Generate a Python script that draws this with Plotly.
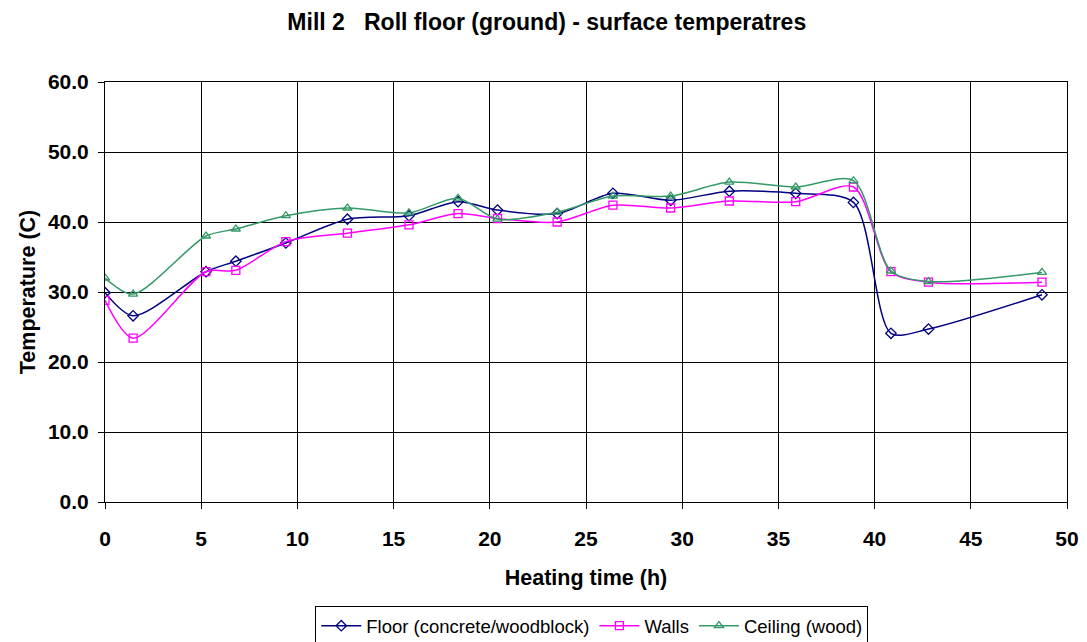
import plotly.graph_objects as go

hours = [0, 1.46, 5.25, 6.8, 9.4, 12.6, 15.8, 18.35, 20.4, 23.5, 26.4, 29.4, 32.45, 35.9, 38.9, 40.85, 42.8, 48.7]
floor = [29.9, 26.6, 32.9, 34.4, 37.0, 40.4, 40.9, 42.9, 41.7, 41.2, 44.1, 43.1, 44.4, 44.1, 42.8, 24.1, 24.7, 29.6]
walls = [28.8, 23.4, 32.9, 33.1, 37.2, 38.4, 39.6, 41.2, 40.5, 40.0, 42.4, 42.0, 43.0, 42.9, 45.0, 32.9, 31.4, 31.4]
ceiling = [32.0, 29.7, 38.0, 39.0, 40.9, 42.0, 41.3, 43.4, 40.4, 41.4, 43.7, 43.7, 45.7, 45.0, 45.9, 33.0, 31.5, 32.8]

series = [
    ("Floor (concrete/woodblock)", floor, "#000080", "diamond-open"),
    ("Walls", walls, "#FF00FF", "square-open"),
    ("Ceiling (wood)", ceiling, "#339966", "triangle-up-open"),
]

fig = go.Figure()
for name, vals, color, sym in series:
    fig.add_trace(go.Scatter(
        x=hours, y=vals, name=name, mode="lines+markers",
        line=dict(color=color, width=1.5, shape="spline", smoothing=0.8),
        marker=dict(symbol=sym, size=8, color=color, line=dict(width=1.3, color=color)),
    ))

font = "Arial, Liberation Sans, sans-serif"
fig.update_layout(
    width=1087, height=642,
    margin=dict(l=105, r=20, t=82, b=140, autoexpand=False),
    paper_bgcolor="white", plot_bgcolor="white",
    title=dict(text="<b>Mill 2\u00a0\u00a0 Roll floor (ground) - surface temperatres</b>",
               x=0.503, xanchor="center", y=0.966, yanchor="middle",
               font=dict(family=font, size=23, color="black")),
    font=dict(family=font, color="black"),
    showlegend=True,
    legend=dict(orientation="h", x=0.506, xanchor="center", y=-0.248, yanchor="top",
                bordercolor="black", borderwidth=1, bgcolor="white",
                font=dict(family=font, size=18.5, color="black"),
                itemwidth=40, tracegroupgap=0),
)
fig.update_xaxes(
    range=[0, 50], dtick=5, tick0=0,
    showgrid=True, gridcolor="black", gridwidth=1,
    showline=True, linecolor="black", linewidth=1, mirror=True,
    ticks="outside", ticklen=6, tickcolor="black", zeroline=False,
    ticklabelstandoff=12,
    tickfont=dict(family=font, size=21, color="black"),
    title=dict(text="<b>Heating time (h)</b>", font=dict(family=font, size=21.5, color="black"), standoff=20),
    tickprefix="<b>", ticksuffix="</b>",
)
fig.update_yaxes(
    range=[0, 60], dtick=10, tick0=0, tickformat=".1f",
    showgrid=True, gridcolor="black", gridwidth=1,
    showline=True, linecolor="black", linewidth=1, mirror=True,
    ticks="outside", ticklen=6, tickcolor="black", zeroline=False,
    ticklabelstandoff=5,
    tickfont=dict(family=font, size=21, color="black"),
    title=dict(text="<b>Temperature (C)</b>", font=dict(family=font, size=21.5, color="black"), standoff=6),
    tickprefix="<b>", ticksuffix="</b>",
)

fig.write_html("out.html")
